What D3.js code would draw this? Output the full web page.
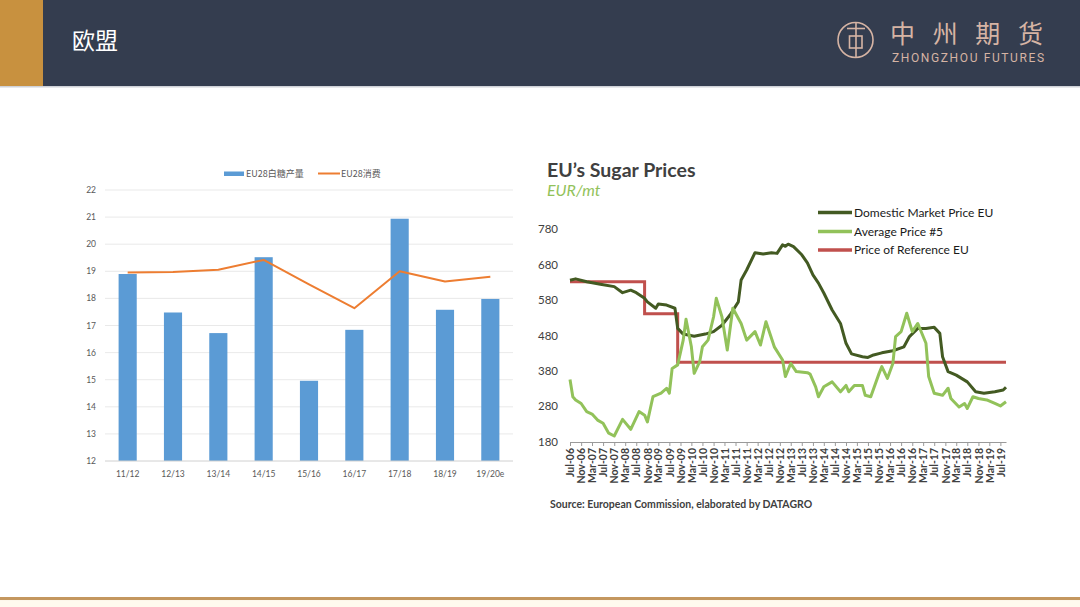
<!DOCTYPE html>
<html><head><meta charset="utf-8">
<script src="https://cdn.jsdelivr.net/npm/d3@7/dist/d3.min.js"></script>
<style>
html,body{margin:0;padding:0;background:#fff;}
svg{display:block;}
</style></head>
<body>
<svg id="chart" width="1080" height="607"></svg>
<script>
// ---------- Left chart data ----------
const seasons = ["11/12","12/13","13/14","14/15","15/16","16/17","17/18","18/19","19/20e"];
const production = [18.9, 17.48, 16.72, 19.52, 14.96, 16.84, 20.94, 17.58, 17.98];
const consumption = [18.96, 18.97, 19.06, 19.42, 18.52, 17.64, 19.0, 18.62, 18.8];
const leftTicks = [12,13,14,15,16,17,18,19,20,21,22];

// ---------- Right chart data ----------
const domesticDates = ["2006-07","2006-09","2007-01","2007-06","2007-11","2008-02","2008-05","2008-07","2008-10","2008-11","2009-02","2009-03","2009-06","2009-09","2009-10","2009-12","2010-04","2010-08","2010-11","2011-02","2011-05","2011-08","2011-09","2011-11","2012-02","2012-05","2012-08","2012-10","2012-12","2013-01","2013-02","2013-04","2013-07","2013-09","2013-11","2014-01","2014-03","2014-06","2014-09","2014-11","2015-01","2015-05","2015-07","2015-09","2015-12","2016-04","2016-08","2016-10","2017-01","2017-04","2017-07","2017-09","2017-10","2017-12","2018-03","2018-07","2018-10","2019-01","2019-05","2019-08","2019-09"];
const domesticValues = [636,640,632,625,618,601,608,601,585,575,557,569,566,557,500,484,478,484,491,509,538,575,637,665,714,710,714,712,736,732,738,731,708,685,651,628,600,552,514,458,428,420,418,425,431,437,448,477,500,500,503,486,420,378,368,349,321,317,321,326,334];

const averageDates = ["2006-07","2006-08","2006-09","2006-11","2007-01","2007-03","2007-05","2007-07","2007-09","2007-11","2008-02","2008-05","2008-08","2008-10","2008-11","2009-01","2009-04","2009-06","2009-07","2009-08","2009-10","2009-12","2010-01","2010-03","2010-04","2010-06","2010-07","2010-09","2010-11","2010-12","2011-02","2011-04","2011-06","2011-09","2011-11","2012-02","2012-04","2012-06","2012-09","2012-12","2013-01","2013-03","2013-05","2013-09","2013-10","2013-12","2014-01","2014-03","2014-06","2014-09","2014-11","2014-12","2015-02","2015-05","2015-06","2015-08","2015-11","2015-12","2016-02","2016-04","2016-05","2016-07","2016-09","2016-11","2017-01","2017-04","2017-05","2017-07","2017-10","2017-12","2018-01","2018-04","2018-06","2018-07","2018-09","2018-11","2019-02","2019-05","2019-07","2019-09"];
const averageValues = [356,307,298,288,265,258,241,232,204,196,243,215,265,255,236,307,317,331,317,387,397,467,526,448,373,406,448,467,533,585,533,439,557,514,467,491,453,519,448,411,364,401,378,375,371,335,307,335,349,321,339,321,339,339,311,307,373,392,359,401,477,491,543,491,514,458,364,317,311,331,302,278,288,274,307,302,298,288,281,293];

const referenceDates = ["2006-07","2008-10","2009-10","2019-09"];
const referenceValues = [631.9, 541.5, 404.4, 404.4];

const rightTicks = [180,280,380,480,580,680,780];
const legendLabels = ["Domestic Market Price EU","Average Price #5","Price of Reference EU"];

// ---------- Drawing ----------
const svg = d3.select("#chart");
const parse = d3.timeParse("%Y-%m");

// Header
svg.append("rect").attr("x",0).attr("y",0).attr("width",1080).attr("height",86).attr("fill","#343d4f");
svg.append("rect").attr("x",0).attr("y",0).attr("width",43).attr("height",86).attr("fill","#c8913f");
svg.append("rect").attr("x",0).attr("y",86).attr("width",1080).attr("height",1.5).attr("fill","#cfd2d8");
svg.append("text").attr("x",72).attr("y",49).attr("fill","#ffffff")
  .attr("font-family","'Noto Sans CJK SC'").attr("font-size",23).text("欧盟");

// Logo
const logoC = "#d6b4a4";
const lg = svg.append("g").attr("stroke",logoC).attr("fill","none").attr("stroke-width",1.6);
lg.append("circle").attr("cx",855.5).attr("cy",40).attr("r",17.5);
lg.append("line").attr("x1",847).attr("x2",865).attr("y1",28.5).attr("y2",28.5);
lg.append("line").attr("x1",856).attr("x2",856).attr("y1",22.5).attr("y2",57.5);
lg.append("rect").attr("x",849.5).attr("y",36).attr("width",12.5).attr("height",12);
svg.append("text").attr("x",890).attr("y",43).attr("fill",logoC)
  .attr("font-family","'Noto Sans CJK SC'").attr("font-size",25).attr("font-weight",400)
  .attr("textLength",153).attr("lengthAdjust","spacing").text("中州期货");
svg.append("text").attr("x",892).attr("y",62).attr("fill",logoC)
  .attr("font-family","'Liberation Sans Narrow','Roboto'").attr("font-size",12)
  .attr("textLength",152).attr("lengthAdjust","spacing").text("ZHONGZHOU FUTURES");

// Bottom line
svg.append("rect").attr("x",0).attr("y",597).attr("width",1080).attr("height",3.2).attr("fill","#c4975f");
svg.append("rect").attr("x",0).attr("y",600.2).attr("width",1080).attr("height",7).attr("fill","#fffaee");

// ---------- Left chart ----------
const lx = d3.scaleBand().domain(seasons).range([105,513]).paddingInner(0.6).paddingOuter(0.3);
const ly = d3.scaleLinear().domain([12,22]).range([461,190]);
const lc = svg.append("g");
lc.selectAll("line.grid").data(leftTicks.slice(1)).join("line")
  .attr("x1",105).attr("x2",513).attr("y1",d=>ly(d)).attr("y2",d=>ly(d))
  .attr("stroke","#e3e3e3").attr("stroke-width",0.8);
lc.selectAll("text.yt").data(leftTicks).join("text")
  .attr("x",96).attr("y",d=>ly(d)+3).attr("text-anchor","end")
  .attr("font-family","Lato").attr("font-size",8.5).attr("fill","#595959").text(d=>d);
lc.selectAll("rect.bar").data(production).join("rect")
  .attr("x",(d,i)=>lx(seasons[i])).attr("width",lx.bandwidth())
  .attr("y",d=>ly(d)).attr("height",d=>ly(12)-ly(d)).attr("fill","#5b9bd5");
lc.append("line").attr("x1",105).attr("x2",513).attr("y1",ly(12)).attr("y2",ly(12))
  .attr("stroke","#d0d0d0").attr("stroke-width",1);
lc.selectAll("text.xt").data(seasons).join("text")
  .attr("x",d=>lx(d)+lx.bandwidth()/2).attr("y",477).attr("text-anchor","middle")
  .attr("font-family","Lato").attr("font-size",8.5).attr("fill","#595959").text(d=>d);
const lline = d3.line().x((d,i)=>lx(seasons[i])+lx.bandwidth()/2).y(d=>ly(d));
lc.append("path").datum(consumption).attr("d",lline).attr("fill","none")
  .attr("stroke","#ed7d31").attr("stroke-width",2).attr("stroke-linejoin","round");
// left legend
lc.append("rect").attr("x",224).attr("y",171.5).attr("width",20).attr("height",4.5).attr("fill","#5b9bd5");
lc.append("text").attr("x",246).attr("y",177).attr("font-family","'Noto Sans CJK SC'").attr("font-size",9)
  .attr("fill","#595959").text("EU28白糖产量");
lc.append("line").attr("x1",318).attr("x2",340).attr("y1",173.5).attr("y2",173.5).attr("stroke","#ed7d31").attr("stroke-width",2);
lc.append("text").attr("x",341).attr("y",177).attr("font-family","'Noto Sans CJK SC'").attr("font-size",9)
  .attr("fill","#595959").text("EU28消费");

// ---------- Right chart ----------
const rx = d3.scaleTime().domain([parse("2006-07"), parse("2019-09")]).range([570,1006]);
const ry = d3.scaleLinear().domain([180,780]).range([441.7,229.3]);
const rc = svg.append("g");
rc.append("text").attr("x",547).attr("y",177).attr("font-family","Lato").attr("font-weight",700)
  .attr("font-size",19.5).attr("fill","#404040").text("EU’s Sugar Prices");
rc.append("text").attr("x",547).attr("y",196).attr("font-family","Lato").attr("font-style","italic")
  .attr("font-size",16).attr("fill","#92c25a").text("EUR/mt");
rc.selectAll("text.yt").data(rightTicks).join("text")
  .attr("x",558).attr("y",d=>ry(d)+4).attr("text-anchor","end")
  .attr("font-family","Lato").attr("font-size",11.5).attr("fill","#404040").text(d=>d);

const xAxis = d3.axisBottom(rx).tickValues(d3.range(0,40).map(i=>d3.timeMonth.offset(parse("2006-07"), i*4)))
  .tickFormat(d3.timeFormat("%b-%y")).tickSize(4).tickSizeOuter(0);
const ax = rc.append("g").attr("transform","translate(0,442)").call(xAxis);
ax.select(".domain").attr("stroke","#9a9a9a");
ax.selectAll(".tick line").attr("stroke","#9a9a9a");
ax.selectAll(".tick text").attr("font-family","Lato").attr("font-weight",700).attr("font-size",10.5)
  .attr("fill","#404040").attr("text-anchor","end")
  .attr("transform","rotate(-90)").attr("x",-6).attr("y",0).attr("dy","0.35em");

const toPts = (dates, vals) => dates.map((d,i)=>({d:parse(d), v:vals[i]}));
const rline = d3.line().x(p=>rx(p.d)).y(p=>ry(p.v));
const rstep = d3.line().x(p=>rx(p.d)).y(p=>ry(p.v)).curve(d3.curveStepAfter);
rc.append("path").datum(toPts(referenceDates, referenceValues)).attr("d",rstep).attr("fill","none")
  .attr("stroke","#c0504d").attr("stroke-width",3);
rc.append("path").datum(toPts(domesticDates, domesticValues)).attr("d",rline).attr("fill","none")
  .attr("stroke","#435a22").attr("stroke-width",3).attr("stroke-linejoin","round");
rc.append("path").datum(toPts(averageDates, averageValues)).attr("d",rline).attr("fill","none")
  .attr("stroke","#92c25a").attr("stroke-width",3).attr("stroke-linejoin","round");

// right legend
const legColors = ["#435a22","#92c25a","#c0504d"];
const legY = [212.5, 231.5, 250];
legendLabels.forEach((t,i)=>{
  rc.append("line").attr("x1",818).attr("x2",852).attr("y1",legY[i]).attr("y2",legY[i])
    .attr("stroke",legColors[i]).attr("stroke-width",3.5);
  rc.append("text").attr("x",854).attr("y",legY[i]+4).attr("font-family","Lato").attr("font-size",12)
    .attr("fill","#1a1a1a").text(t);
});
rc.append("text").attr("x",550).attr("y",508).attr("font-family","Lato").attr("font-weight",700)
  .attr("font-size",10.5).attr("fill","#404040").text("Source: European Commission, elaborated by DATAGRO");
</script>
</body></html>
